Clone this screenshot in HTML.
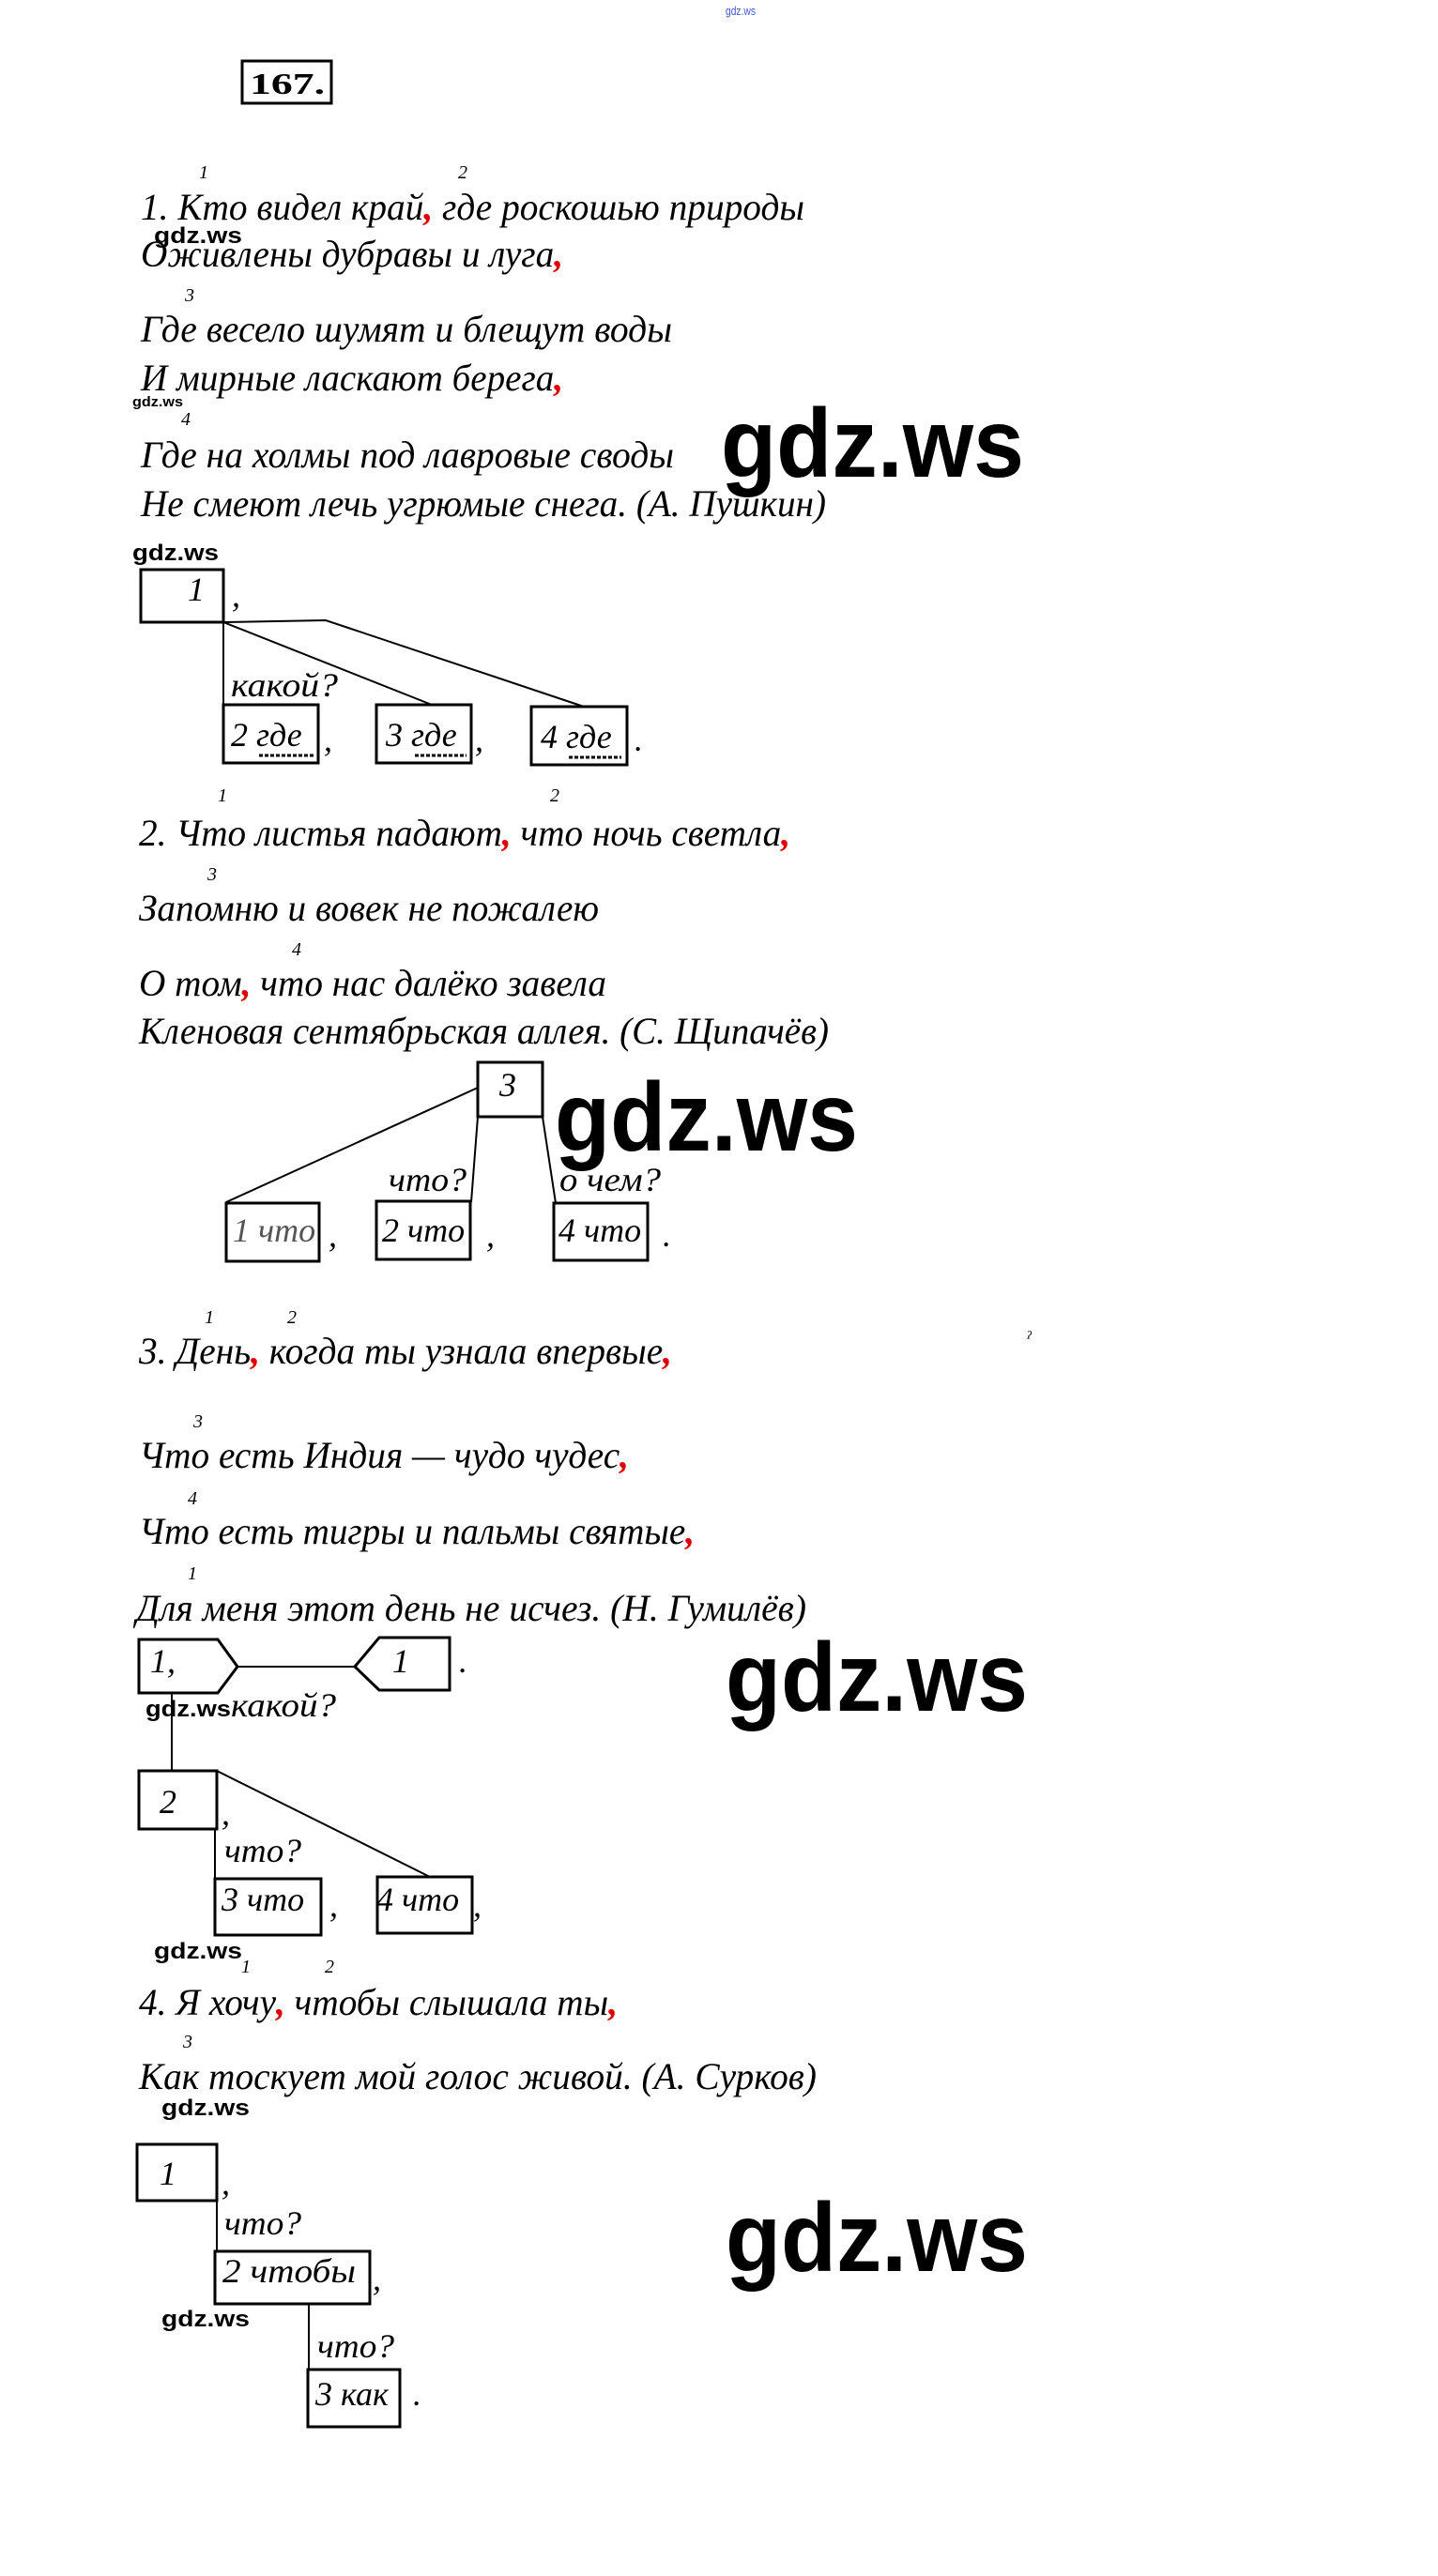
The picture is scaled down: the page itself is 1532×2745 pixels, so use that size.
<!DOCTYPE html>
<html><head><meta charset="utf-8">
<style>
html,body{margin:0;padding:0;background:#fff;}
svg{display:block;}
.t{font-family:"Liberation Serif",serif;font-style:italic;font-size:40px;fill:#000;}
.b{font-family:"Liberation Serif",serif;font-style:italic;font-size:36px;fill:#000;}
.s{font-family:"Liberation Serif",serif;font-style:italic;font-size:20px;fill:#000;}
.r{fill:#e00000;font-weight:bold;}
.w{font-family:"Liberation Sans",sans-serif;fill:#000;font-weight:bold;}
.box{fill:none;stroke:#000;stroke-width:3;}
.ln{stroke:#000;stroke-width:2;fill:none;}
</style></head>
<body>
<svg width="1532" height="2745" viewBox="0 0 1532 2745" xmlns="http://www.w3.org/2000/svg">
<text x="773" y="16" font-family="Liberation Sans,sans-serif" font-size="13" style="fill:#4455dd" textLength="32" lengthAdjust="spacingAndGlyphs">gdz.ws</text>

<rect x="258" y="65" width="95" height="45" class="box"/>
<text x="266" y="100" font-family="Liberation Serif,serif" font-weight="bold" font-size="32" textLength="80" lengthAdjust="spacingAndGlyphs">167.</text>

<!-- Poem 1 -->
<text x="212" y="190" class="s">1</text>
<text x="488" y="190" class="s">2</text>
<text x="150" y="234" class="t" textLength="707" lengthAdjust="spacingAndGlyphs">1. Кто видел край<tspan class="r">,</tspan> где роскошью природы</text>
<text x="164" y="259" class="w" font-size="24" textLength="94" lengthAdjust="spacingAndGlyphs">gdz.ws</text>
<text x="150" y="284" class="t" textLength="450" lengthAdjust="spacingAndGlyphs">Оживлены дубравы и луга<tspan class="r">,</tspan></text>
<text x="197" y="321" class="s">3</text>
<text x="150" y="364" class="t" textLength="566" lengthAdjust="spacingAndGlyphs">Где весело шумят и блещут воды</text>
<text x="150" y="416" class="t" textLength="450" lengthAdjust="spacingAndGlyphs">И мирные ласкают берега<tspan class="r">,</tspan></text>
<text x="141" y="433" class="w" font-size="15" textLength="54" lengthAdjust="spacingAndGlyphs">gdz.ws</text>
<text x="193" y="453" class="s">4</text>
<text x="150" y="498" class="t" textLength="568" lengthAdjust="spacingAndGlyphs">Где на холмы под лавровые своды</text>
<text x="150" y="550" class="t" textLength="730" lengthAdjust="spacingAndGlyphs">Не смеют лечь угрюмые снега. (А. Пушкин)</text>
<text x="768" y="508" class="w" font-size="104" textLength="323" lengthAdjust="spacingAndGlyphs">gdz.ws</text>
<text x="141" y="597" class="w" font-size="24" textLength="92" lengthAdjust="spacingAndGlyphs">gdz.ws</text>

<!-- Diagram 1 -->
<rect x="150" y="607" width="88" height="56" class="box"/>
<text x="200" y="640" class="b">1</text>
<text x="247" y="646" class="b">,</text>
<polyline points="238,663 347,661 622,753" class="ln"/>
<line x1="238" y1="663" x2="460" y2="751" class="ln"/>
<line x1="238" y1="663" x2="238" y2="751" class="ln"/>
<text x="246" y="742" class="b" textLength="114" lengthAdjust="spacingAndGlyphs">какой?</text>
<rect x="238" y="751" width="101" height="62" class="box"/>
<rect x="401" y="751" width="101" height="62" class="box"/>
<rect x="566" y="753" width="102" height="62" class="box"/>
<text x="246" y="795" class="b">2 где</text>
<text x="411" y="795" class="b">3 где</text>
<text x="576" y="797" class="b">4 где</text>
<line x1="276" y1="805" x2="334" y2="805" stroke="#000" stroke-width="3" stroke-dasharray="4,2"/>
<line x1="442" y1="805" x2="497" y2="805" stroke="#000" stroke-width="3" stroke-dasharray="4,2"/>
<line x1="606" y1="807" x2="662" y2="807" stroke="#000" stroke-width="3" stroke-dasharray="4,2"/>
<text x="345" y="800" class="b">,</text>
<text x="506" y="800" class="b">,</text>
<text x="676" y="800" class="b">.</text>

<!-- Poem 2 -->
<text x="232" y="854" class="s">1</text>
<text x="586" y="854" class="s">2</text>
<text x="148" y="901" class="t" textLength="694" lengthAdjust="spacingAndGlyphs">2. Что листья падают<tspan class="r">,</tspan> что ночь светла<tspan class="r">,</tspan></text>
<text x="221" y="938" class="s">3</text>
<text x="148" y="981" class="t" textLength="490" lengthAdjust="spacingAndGlyphs">Запомню и вовек не пожалею</text>
<text x="311" y="1018" class="s">4</text>
<text x="148" y="1061" class="t" textLength="498" lengthAdjust="spacingAndGlyphs">О том<tspan class="r">,</tspan> что нас далёко завела</text>
<text x="148" y="1112" class="t" textLength="735" lengthAdjust="spacingAndGlyphs">Кленовая сентябрьская аллея. (С. Щипачёв)</text>

<!-- Diagram 2 -->
<rect x="509" y="1132" width="69" height="58" class="box"/>
<text x="532" y="1168" class="b">3</text>
<text x="591" y="1226" class="w" font-size="104" textLength="323" lengthAdjust="spacingAndGlyphs">gdz.ws</text>
<line x1="509" y1="1159" x2="241" y2="1281" class="ln"/>
<line x1="509" y1="1190" x2="502" y2="1281" class="ln"/>
<line x1="578" y1="1190" x2="592" y2="1282" class="ln"/>
<text x="414" y="1269" class="b" textLength="83" lengthAdjust="spacingAndGlyphs">что?</text>
<text x="596" y="1269" class="b" textLength="108" lengthAdjust="spacingAndGlyphs">о чем?</text>
<rect x="241" y="1282" width="99" height="62" class="box"/>
<rect x="401" y="1280" width="100" height="62" class="box"/>
<rect x="590" y="1282" width="100" height="61" class="box"/>
<text x="248" y="1323" class="b" style="fill:#555">1 что</text>
<text x="407" y="1323" class="b">2 что</text>
<text x="595" y="1323" class="b">4 что</text>
<text x="350" y="1328" class="b">,</text>
<text x="518" y="1328" class="b">,</text>
<text x="706" y="1328" class="b">.</text>

<!-- Poem 3 -->
<text x="218" y="1410" class="s">1</text>
<text x="306" y="1410" class="s">2</text>
<text x="1093" y="1432" class="s" font-size="12">ˀ</text>
<text x="148" y="1453" class="t" textLength="568" lengthAdjust="spacingAndGlyphs">3. День<tspan class="r">,</tspan> когда ты узнала впервые<tspan class="r">,</tspan></text>
<text x="206" y="1521" class="s">3</text>
<text x="148" y="1564" class="t" textLength="522" lengthAdjust="spacingAndGlyphs">Что есть Индия — чудо чудес<tspan class="r">,</tspan></text>
<text x="200" y="1603" class="s">4</text>
<text x="148" y="1645" class="t" textLength="592" lengthAdjust="spacingAndGlyphs">Что есть тигры и пальмы святые<tspan class="r">,</tspan></text>
<text x="200" y="1683" class="s">1</text>
<text x="145" y="1727" class="t" textLength="714" lengthAdjust="spacingAndGlyphs">Для меня этот день не исчез. (Н. Гумилёв)</text>

<!-- Diagram 3 -->
<polygon points="148,1747 232,1747 253,1776 232,1804 148,1804" class="box"/>
<text x="160" y="1782" class="b">1,</text>
<line x1="253" y1="1776" x2="378" y2="1776" class="ln"/>
<polygon points="378,1776 404,1745 479,1745 479,1801 404,1801" class="box"/>
<text x="418" y="1782" class="b">1</text>
<text x="489" y="1782" class="b">.</text>
<text x="773" y="1823" class="w" font-size="104" textLength="322" lengthAdjust="spacingAndGlyphs">gdz.ws</text>
<text x="155" y="1829" class="w" font-size="24" textLength="91" lengthAdjust="spacingAndGlyphs">gdz.ws</text>
<text x="246" y="1829" class="b" textLength="112" lengthAdjust="spacingAndGlyphs">какой?</text>
<line x1="183" y1="1804" x2="183" y2="1887" class="ln"/>
<rect x="148" y="1887" width="83" height="62" class="box"/>
<text x="170" y="1932" class="b">2</text>
<text x="236" y="1944" class="b">,</text>
<line x1="231" y1="1887" x2="458" y2="2000" class="ln"/>
<line x1="229" y1="1949" x2="229" y2="2002" class="ln"/>
<text x="239" y="1984" class="b" textLength="82" lengthAdjust="spacingAndGlyphs">что?</text>
<rect x="229" y="2002" width="113" height="60" class="box"/>
<text x="236" y="2036" class="b">3 что</text>
<text x="351" y="2042" class="b">,</text>
<rect x="402" y="2000" width="101" height="60" class="box"/>
<text x="401" y="2036" class="b">4 что</text>
<text x="504" y="2042" class="b">,</text>
<text x="164" y="2087" class="w" font-size="24" textLength="94" lengthAdjust="spacingAndGlyphs">gdz.ws</text>

<!-- Poem 4 -->
<text x="257" y="2102" class="s">1</text>
<text x="346" y="2102" class="s">2</text>
<text x="148" y="2147" class="t" textLength="510" lengthAdjust="spacingAndGlyphs">4. Я хочу<tspan class="r">,</tspan> чтобы слышала ты<tspan class="r">,</tspan></text>
<text x="195" y="2182" class="s">3</text>
<text x="148" y="2226" class="t" textLength="722" lengthAdjust="spacingAndGlyphs">Как тоскует мой голос живой. (А. Сурков)</text>
<text x="172" y="2254" class="w" font-size="24" textLength="94" lengthAdjust="spacingAndGlyphs">gdz.ws</text>

<!-- Diagram 4 -->
<rect x="146" y="2285" width="85" height="60" class="box"/>
<text x="170" y="2328" class="b">1</text>
<text x="236" y="2338" class="b">,</text>
<line x1="231" y1="2345" x2="231" y2="2399" class="ln"/>
<text x="239" y="2381" class="b" textLength="82" lengthAdjust="spacingAndGlyphs">что?</text>
<rect x="229" y="2399" width="165" height="56" class="box"/>
<text x="237" y="2432" class="b" textLength="142" lengthAdjust="spacingAndGlyphs">2 чтобы</text>
<text x="397" y="2440" class="b">,</text>
<text x="172" y="2479" class="w" font-size="24" textLength="94" lengthAdjust="spacingAndGlyphs">gdz.ws</text>
<line x1="329" y1="2455" x2="329" y2="2525" class="ln"/>
<text x="338" y="2512" class="b" textLength="82" lengthAdjust="spacingAndGlyphs">что?</text>
<rect x="328" y="2525" width="98" height="61" class="box"/>
<text x="336" y="2563" class="b">3 как</text>
<text x="440" y="2563" class="b">.</text>
<text x="773" y="2420" class="w" font-size="104" textLength="322" lengthAdjust="spacingAndGlyphs">gdz.ws</text>
</svg>
</body></html>
